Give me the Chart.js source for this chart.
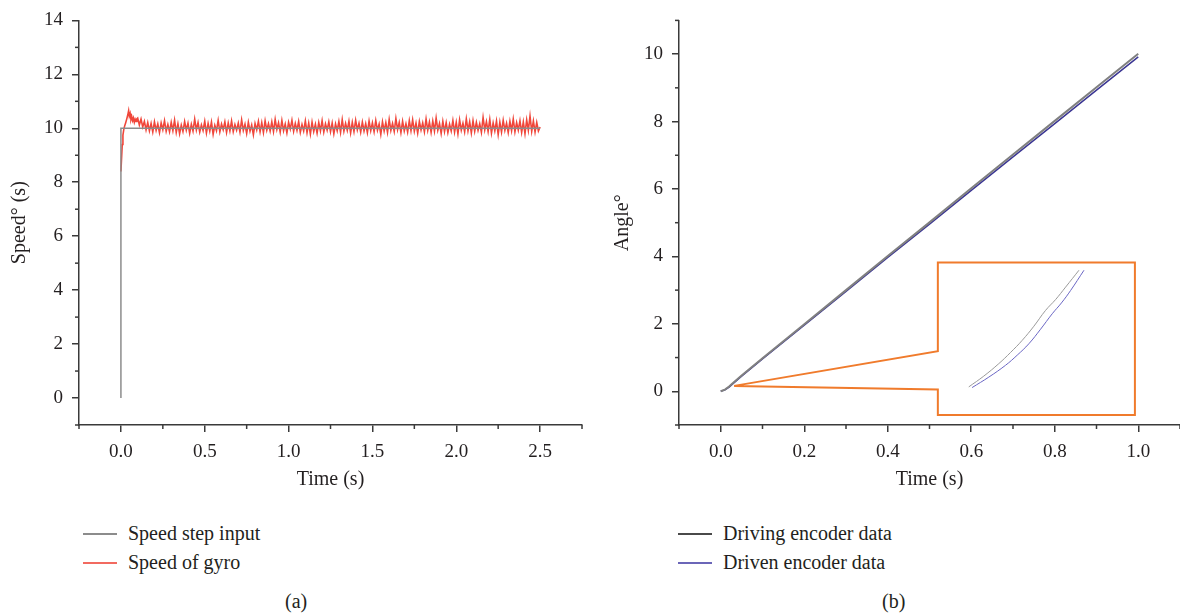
<!DOCTYPE html>
<html>
<head>
<meta charset="utf-8">
<script src="https://cdn.jsdelivr.net/npm/chart.js@4.4.1/dist/chart.umd.min.js"></script>
<style>
  body { margin: 0; width: 1180px; height: 614px; background: #fff; position: relative; overflow: hidden;
         font-family: "Liberation Serif", "DejaVu Serif", serif; color: #231f20; }
  .panel { position: absolute; top: 0; }
  .leg { position: absolute; font-size: 20px; line-height: 20px; white-space: nowrap; }
  .leg i { position: absolute; left: -45px; top: 10px; width: 34px; height: 0; border-top: 2px solid; }
  .cap { position: absolute; font-size: 20px; top: 590px; }
</style>
</head>
<body>
<div class="panel" style="left:0"><canvas id="chartA" width="590" height="500"></canvas></div>
<div class="panel" style="left:590px"><canvas id="chartB" width="590" height="500"></canvas></div>

<div class="leg" style="left:128px;top:523px"><i style="border-color:#8c8c8c"></i>Speed step input</div>
<div class="leg" style="left:128px;top:552px"><i style="border-color:#f26a60"></i>Speed of gyro</div>
<div class="cap" style="left:285px">(a)</div>

<div class="leg" style="left:723px;top:523px"><i style="border-color:#4a4a4a"></i>Driving encoder data</div>
<div class="leg" style="left:723px;top:552px"><i style="border-color:#6b66b8"></i>Driven encoder data</div>
<div class="cap" style="left:882px">(b)</div>

<script>
// ---- (a) speed step response ----
const speedTimeTicks = [0, 0.5, 1.0, 1.5, 2.0, 2.5];
const speedTicks = [0, 2, 4, 6, 8, 10, 12, 14];

const stepTime = [0, 0, 2.5];
const stepSpeed = [0, 10, 10];

// start-up transient of the gyro
const gyroRiseTime = [0, 0.004, 0.008, 0.012, 0.017, 0.022, 0.028, 0.035, 0.041, 0.046, 0.05, 0.055, 0.06, 0.065, 0.07, 0.075, 0.08, 0.085, 0.09, 0.095];
const gyroRiseSpeed = [8.4, 8.9, 9.4, 9.75, 9.95, 10.08, 10.2, 10.35, 10.5, 10.65, 10.45, 10.55, 10.32, 10.42, 10.28, 10.38, 10.22, 10.33, 10.25, 10.35];

// steady part, one sample every 10 ms from 0.10 s to 2.50 s
const gyroStart = 0.10;
const gyroStep = 0.01;
const gyroSpeed = [
  10.38, 10.12, 10.34, 10.05, 10.26, 9.94, 10.21, 9.90, 10.18, 9.86, 10.24, 9.92, 10.16, 9.84, 10.20, 9.95, 10.28, 9.89, 10.14, 9.87,
  10.22, 9.91, 10.30, 9.85, 10.17, 9.80, 10.12, 9.88, 10.25, 9.93, 10.19, 9.82, 10.15, 9.90, 10.34, 9.94, 10.21, 9.86, 10.13, 9.92,
  10.26, 9.83, 10.18, 9.89, 10.23, 9.78, 10.11, 9.91, 10.29, 9.87, 10.16, 9.95, 10.24, 9.85, 10.20, 9.90, 10.27, 9.88, 10.14, 9.93,
  10.19, 9.86, 10.31, 9.92, 10.15, 9.81, 10.22, 9.89, 10.12, 9.76, 10.18, 9.94, 10.26, 9.87, 10.21, 9.84, 10.28, 9.93, 10.17, 9.90,
  10.24, 9.88, 10.33, 9.95, 10.20, 9.86, 10.29, 9.91, 10.16, 9.83, 10.22, 9.97, 10.30, 9.89, 10.18, 9.92, 10.25, 9.85, 10.14, 9.90,
  10.27, 9.84, 10.19, 9.79, 10.23, 9.88, 10.15, 9.82, 10.21, 9.90, 10.28, 9.86, 10.17, 9.93, 10.24, 9.87, 10.20, 9.80, 10.16, 9.91,
  10.25, 9.85, 10.32, 9.89, 10.18, 9.92, 10.26, 9.83, 10.22, 9.88, 10.30, 9.94, 10.19, 9.86, 10.23, 9.90, 10.17, 9.84, 10.27, 9.91,
  10.20, 9.87, 10.29, 9.93, 10.16, 9.78, 10.24, 9.90, 10.21, 9.85, 10.33, 9.92, 10.18, 9.88, 10.36, 9.95, 10.22, 9.84, 10.26, 9.90,
  10.17, 9.86, 10.28, 9.91, 10.31, 9.89, 10.19, 9.82, 10.25, 9.94, 10.20, 9.87, 10.34, 9.92, 10.23, 9.85, 10.27, 9.90, 10.38, 9.93,
  10.18, 9.81, 10.26, 9.88, 10.21, 9.84, 10.15, 9.90, 10.29, 9.86, 10.22, 9.80, 10.31, 9.93, 10.19, 9.87, 10.35, 9.91, 10.24, 9.83,
  10.28, 9.89, 10.22, 9.92, 10.17, 9.85, 10.40, 9.94, 10.25, 9.88, 10.33, 9.82, 10.20, 9.90, 10.27, 9.77, 10.23, 9.86, 10.30, 9.92,
  10.19, 9.84, 10.26, 9.91, 10.34, 9.87, 10.21, 9.93, 10.28, 9.85, 10.24, 9.80, 10.31, 9.92, 10.45, 9.89, 10.27, 9.86, 10.22, 9.90,
  10.05
];

// ---- (b) encoders ----
const angleTimeTicks = [0, 0.2, 0.4, 0.6, 0.8, 1.0];
const angleTicks = [0, 2, 4, 6, 8, 10];

const encTime = [0, 0.01, 0.02, 0.03, 0.05, 0.1, 0.2, 0.3, 0.4, 0.5, 0.6, 0.7, 0.8, 0.9, 1.0];
const drivingAngle = [0, 0.05, 0.14, 0.25, 0.47, 0.98, 1.99, 3.0, 4.01, 5.01, 6.02, 7.02, 8.02, 9.02, 10.01];
const drivenAngle = [0, 0.04, 0.12, 0.23, 0.45, 0.96, 1.96, 2.96, 3.97, 4.96, 5.96, 6.95, 7.94, 8.93, 9.92];

// magnified start-up, drawn inside the callout box
const zoomDrivingX = [0.594, 0.630, 0.666, 0.694, 0.722, 0.750, 0.778, 0.802, 0.826, 0.858];
const zoomDrivingY = [0.13, 0.45, 0.82, 1.15, 1.51, 1.93, 2.40, 2.72, 3.09, 3.59];
const zoomDrivenX = [0.602, 0.642, 0.682, 0.710, 0.738, 0.766, 0.794, 0.816, 0.838, 0.870];
const zoomDrivenY = [0.11, 0.42, 0.77, 1.07, 1.41, 1.84, 2.30, 2.62, 2.99, 3.59];

// callout outline (data coordinates)
const calloutX = [0.032, 0.52, 0.52, 0.992, 0.992, 0.52, 0.52, 0.032];
const calloutY = [0.16, 1.19, 3.82, 3.82, -0.70, -0.70, 0.05, 0.16];

const font = '"Liberation Serif", "DejaVu Serif", serif';
const txt = '#231f20';
const axisColor = '#3a3a3a';
Chart.defaults.font.family = font;
Chart.defaults.color = txt;

function pts(xs, ys) { return xs.map((x, i) => ({ x: x, y: ys[i] })); }

const gyroPts = pts(gyroRiseTime, gyroRiseSpeed)
  .concat(gyroSpeed.map((v, i) => ({ x: +(gyroStart + i * gyroStep).toFixed(2), y: v })));

// minor ticks half-way between the labelled ones
const minorTicks = {
  id: 'minorTicks',
  afterDraw(chart) {
    const ctx = chart.ctx;
    ctx.save();
    ctx.strokeStyle = axisColor;
    ctx.lineWidth = 1.5;
    Object.values(chart.scales).forEach(s => {
      const v = s.ticks.map(t => t.value);
      const half = (v[1] - v[0]) / 2;
      for (let m = v[0] - half; m <= s.max + 1e-9; m += 2 * half) {
        if (m < s.min - 1e-9) continue;
        const p = s.getPixelForValue(m);
        ctx.beginPath();
        if (s.isHorizontal()) { ctx.moveTo(p, s.top); ctx.lineTo(p, s.top + 4); }
        else { ctx.moveTo(s.right, p); ctx.lineTo(s.right - 4, p); }
        ctx.stroke();
      }
    });
    ctx.restore();
  }
};

function axis(min, max, ticks, title, digits, titlePad, extra) {
  return Object.assign({
    type: 'linear',
    min: min,
    max: max,
    afterBuildTicks: s => { s.ticks = ticks.map(v => ({ value: v })); },
    grid: { drawOnChartArea: false, drawTicks: true, tickLength: 7, color: axisColor, lineWidth: 1.5 },
    border: { display: true, color: axisColor, width: 1.5 },
    ticks: {
      color: txt, font: { family: font, size: 19 }, padding: 9, maxRotation: 0, autoSkip: false,
      callback: v => Number(v).toFixed(digits)
    },
    title: { display: true, text: title, color: txt, font: { family: font, size: 20 }, padding: { top: titlePad, bottom: 0 } }
  }, extra);
}

function line(data, color, width, tension) {
  return { data: data, showLine: true, borderColor: color, borderWidth: width, pointRadius: 0, fill: false, tension: tension || 0 };
}

new Chart(document.getElementById('chartA'), {
  type: 'scatter',
  data: {
    datasets: [
      line(pts(stepTime, stepSpeed), '#8c8c8c', 1.5),
      line(gyroPts, '#f0463a', 1.6)
    ]
  },
  options: {
    responsive: false,
    animation: false,
    layout: { padding: { left: 0, right: 8, top: 20, bottom: 8 } },
    plugins: { legend: { display: false }, tooltip: { enabled: false } },
    scales: {
      x: axis(-0.25, 2.75, speedTimeTicks, 'Time (s)', 1, 0, { afterFit: s => { s.height = 67; } }),
      y: axis(-1, 14, speedTicks, 'Speed\u00b0 (s)', 0, 8, { afterFit: s => { s.width = 79; } })
    }
  },
  plugins: [minorTicks]
});

new Chart(document.getElementById('chartB'), {
  type: 'scatter',
  data: {
    datasets: [
      line(pts(calloutX, calloutY), '#f07b2c', 2),
      line(pts(zoomDrivingX, zoomDrivingY), '#9a9a9a', 1, 0.4),
      line(pts(zoomDrivenX, zoomDrivenY), '#6a66c4', 1, 0.4),
      line(pts(encTime, drivingAngle), '#808080', 2),
      line(pts(encTime, drivenAngle), '#3b3693', 1.5)
    ]
  },
  options: {
    responsive: false,
    animation: false,
    layout: { padding: { left: 0, right: 0, top: 20, bottom: 8 } },
    plugins: { legend: { display: false }, tooltip: { enabled: false } },
    scales: {
      x: axis(-0.1, 1.1, angleTimeTicks, 'Time (s)', 1, 0, { afterFit: s => { s.height = 67; } }),
      y: axis(-1, 11, angleTicks, 'Angle\u00b0', 0, 21, { afterFit: s => { s.width = 89; } })
    }
  },
  plugins: [minorTicks]
});
</script>
</body>
</html>
